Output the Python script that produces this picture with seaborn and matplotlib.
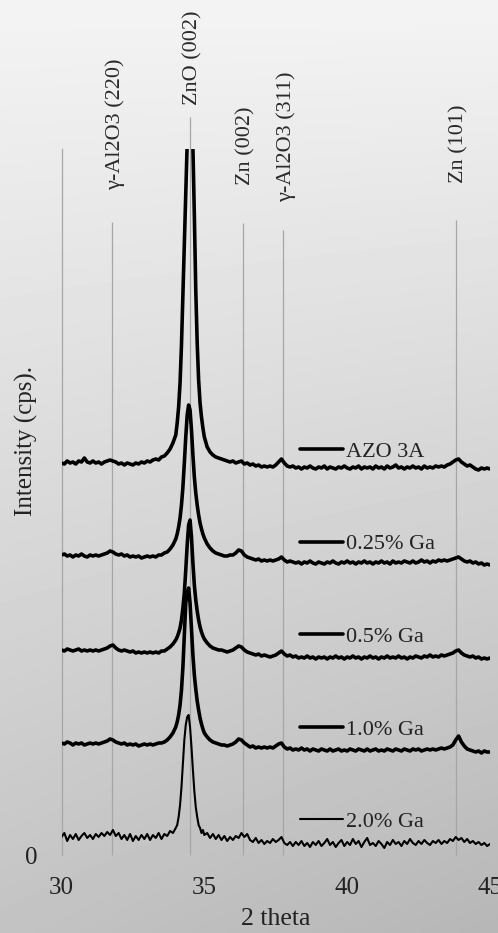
import numpy as np
import pandas as pd
import matplotlib
matplotlib.use("Agg")
import matplotlib.pyplot as plt
import seaborn as sns

# ---------------- data ----------------
TWO_THETA = [
    30.0, 30.1, 30.2, 30.3, 30.4, 30.5, 30.6, 30.7, 30.8, 30.9,
    31.0, 31.1, 31.2, 31.3, 31.4, 31.5, 31.6, 31.7, 31.8, 31.9,
    32.0, 32.1, 32.2, 32.3, 32.4, 32.5, 32.6, 32.7, 32.8, 32.9,
    33.0, 33.1, 33.2, 33.3, 33.4, 33.5, 33.6, 33.7, 33.8, 33.9,
    34.0, 34.05, 34.1, 34.15, 34.2, 34.25, 34.3, 34.35, 34.4, 34.45,
    34.5, 34.55, 34.6, 34.65, 34.7, 34.75, 34.8, 34.85, 34.9, 34.95, 35.0,
    35.1, 35.2, 35.3, 35.4, 35.5, 35.6, 35.7, 35.8, 35.9, 36.0,
    36.1, 36.2, 36.3, 36.4, 36.5, 36.6, 36.7, 36.8, 36.9, 37.0,
    37.1, 37.2, 37.3, 37.4, 37.5, 37.6, 37.7, 37.8, 37.9, 38.0,
    38.1, 38.2, 38.3, 38.4, 38.5, 38.6, 38.7, 38.8, 38.9, 39.0,
    39.1, 39.2, 39.3, 39.4, 39.5, 39.6, 39.7, 39.8, 39.9, 40.0,
    40.1, 40.2, 40.3, 40.4, 40.5, 40.6, 40.7, 40.8, 40.9, 41.0,
    41.1, 41.2, 41.3, 41.4, 41.5, 41.6, 41.7, 41.8, 41.9, 42.0,
    42.1, 42.2, 42.3, 42.4, 42.5, 42.6, 42.7, 42.8, 42.9, 43.0,
    43.1, 43.2, 43.3, 43.4, 43.5, 43.6, 43.7, 43.8, 43.9, 44.0,
    44.1, 44.2, 44.3, 44.4, 44.5, 44.6, 44.7, 44.8, 44.9, 45.0,
]

AZO_3A = [
    392, 391, 394, 392, 393, 391, 394, 393, 397, 393,
    392, 394, 392, 393, 391, 393, 394, 395, 394, 393,
    391, 392, 390, 392, 391, 390, 392, 391, 393, 392,
    394, 393, 395, 396, 395, 398, 399, 402, 406, 412,
    420, 432, 448, 472, 510, 560, 612, 662, 712, 800,
    860, 790, 708, 640, 565, 512, 475, 452, 438, 427, 418,
    408, 403, 400, 398, 397, 396, 395, 394, 393, 394,
    392, 393, 394, 391, 392, 390, 391, 389, 390, 388,
    389, 388, 389, 388, 390, 393, 396, 392, 389, 388,
    389, 387, 388, 386, 388, 387, 389, 387, 386, 388,
    387, 389, 386, 388, 387, 386, 388, 387, 389, 387,
    386, 388, 387, 389, 386, 388, 387, 388, 386, 389,
    387, 388, 386, 389, 387, 388, 390, 387, 388, 386,
    388, 387, 389, 387, 388, 386, 389, 387, 388, 387,
    389, 388, 389, 388, 390, 391, 393, 395, 396, 393,
    391, 389, 390, 388, 386, 385, 387, 386, 387, 386,
]

GA_025 = [
    300, 301, 299, 300, 298, 300, 299, 301, 299, 298,
    300, 299, 300, 299, 300, 301, 302, 304, 303, 301,
    300, 301, 299, 300, 298, 299, 298, 299, 297, 298,
    299, 298, 299, 298, 300, 300, 302, 303, 306, 310,
    316, 321, 328, 337, 350, 368, 392, 418, 440, 450,
    445, 425, 400, 378, 362, 350, 340, 332, 326, 321, 317,
    311, 307, 304, 302, 301, 300, 299, 299, 300, 300,
    302, 305, 304, 300, 298, 297, 296, 295, 296, 294,
    295, 294, 295, 294, 295, 296, 298, 295, 293, 294,
    293, 292, 293, 291, 293, 292, 294, 292, 291, 293,
    292, 291, 293, 292, 294, 292, 291, 293, 292, 294,
    292, 293, 291, 293, 292, 294, 292, 293, 291, 293,
    292, 294, 292, 293, 291, 294, 292, 293, 292, 294,
    293, 292, 294, 292, 293, 295, 293, 294, 292, 294,
    293, 295, 294, 295, 294, 295, 296, 297, 298, 296,
    294, 293, 294, 292, 293, 291, 292, 290, 291, 290,
]

GA_05 = [
    205, 204, 206, 205, 204, 205, 206, 204, 205, 204,
    205, 204, 205, 204, 205, 206, 207, 209, 210, 207,
    205, 204, 205, 204, 203, 204, 202, 203, 202, 203,
    202, 203, 202, 203, 202, 204, 204, 206, 208, 211,
    215, 218, 222, 227, 235, 247, 262, 285, 310, 330,
    335, 318, 292, 270, 255, 244, 235, 228, 223, 219, 216,
    212, 209, 207, 206, 205, 205, 204, 203, 204, 205,
    207, 209, 208, 205, 203, 202, 201, 200, 201, 199,
    200, 199, 198, 199, 200, 202, 204, 201, 199, 200,
    198, 199, 197, 198, 197, 199, 197, 198, 196, 198,
    197, 198, 196, 198, 197, 199, 197, 198, 196, 198,
    197, 199, 197, 198, 196, 198, 197, 199, 197, 198,
    196, 198, 197, 199, 197, 198, 197, 199, 197, 198,
    196, 198, 197, 199, 198, 197, 199, 198, 200, 198,
    199, 198, 200, 199, 200, 201, 202, 204, 205, 202,
    200, 199, 198, 199, 197, 198, 196, 197, 196, 197,
]

GA_10 = [
    112, 111, 113, 112, 110, 112, 111, 112, 110, 111,
    112, 111, 112, 111, 112, 113, 114, 116, 115, 113,
    112, 111, 112, 110, 111, 110, 111, 109, 110, 111,
    110, 111, 110, 111, 112, 112, 113, 115, 118, 122,
    128, 133, 140, 150, 165, 188, 220, 252, 262, 267,
    252, 225, 200, 180, 166, 154, 145, 137, 131, 126, 122,
    118, 115, 113, 112, 111, 110, 110, 109, 110, 111,
    113, 116, 115, 112, 110, 108, 109, 107, 108, 107,
    108, 107, 108, 107, 109, 111, 112, 108, 106, 107,
    105, 106, 105, 107, 105, 106, 104, 106, 105, 104,
    106, 105, 104, 106, 104, 105, 106, 104, 105, 104,
    106, 105, 104, 106, 105, 104, 106, 104, 105, 106,
    104, 105, 104, 106, 105, 104, 106, 105, 104, 106,
    105, 104, 106, 105, 106, 104, 105, 106, 105, 106,
    105, 106, 107, 106, 107, 108, 110, 115, 119, 113,
    109, 106, 105, 104, 103, 104, 102, 104, 103, 103,
]

GA_20 = [
    18, 22, 14, 20, 16, 21, 15, 19, 22, 17,
    20, 16, 21, 18, 22, 19, 23, 20, 25, 19,
    22, 16, 20, 15, 21, 14, 19, 15, 20, 16,
    21, 15, 20, 17, 22, 16, 21, 19, 24, 22,
    27, 30, 38, 50, 68, 92, 115, 130, 138, 140,
    128, 108, 85, 64, 48, 38, 30, 27, 22, 25, 20,
    22, 17, 21, 16, 20, 15, 19, 14, 18, 15,
    19, 17, 22, 18, 21, 15, 13, 17, 12, 15,
    11, 14, 12, 16, 13, 15, 18, 12, 10, 13,
    9, 13, 10, 14, 9, 12, 8, 13, 10, 14,
    9, 12, 16, 10, 13, 8, 12, 15, 9, 13,
    10, 16, 11, 14, 8, 13, 17, 10, 12, 9,
    14, 11, 7, 13, 10, 15, 11, 13, 9, 14,
    11, 16, 12, 10, 14, 11, 15, 12, 10, 14,
    12, 15, 11, 14, 12, 16, 14, 18, 15, 17,
    13, 16, 12, 14, 11, 13, 10, 12, 9, 11,
]

SAMPLE_NAMES = ["AZO 3A", "0.25% Ga", "0.5% Ga", "1.0% Ga", "2.0% Ga"]
SAMPLE_VALUES = [AZO_3A, GA_025, GA_05, GA_10, GA_20]

REF_POSITIONS = [31.77, 34.51, 36.36, 37.76, 43.82]
REF_LABELS = ["γ-Al2O3 (220)", "ZnO (002)", "Zn (002)", "γ-Al2O3 (311)", "Zn (101)"]
REF_LINE_TOPS = [633, 738, 632, 625, 635]

X_TICKS = [30, 35, 40, 45]
Y_TICKS = [0]

# ---------------- style / layout ----------------
LABEL_Y = [665, 750, 670, 653, 672]
LINE_WIDTHS = [2.6, 2.6, 2.6, 2.6, 1.5]

sns.set_style("white")
plt.rcParams["font.family"] = ["Liberation Serif", "DejaVu Serif"]

fig = plt.figure(figsize=(4.98, 9.33), dpi=100)

# gradient background
bg = fig.add_axes([0, 0, 1, 1], zorder=-10)
yy, xx = np.mgrid[0:1:200j, 0:1:100j]
shade = 0.955 - 0.19 * yy - 0.05 * xx * yy
bg.imshow(shade, cmap="gray", vmin=0, vmax=1, aspect="auto",
          extent=[0, 1, 0, 1], interpolation="bilinear")
bg.axis("off")

ax = fig.add_axes([61.5 / 498, 78 / 933, 428.5 / 498, 706 / 933])
ax.set_facecolor("none")

frames = []
for name, vals in zip(SAMPLE_NAMES, SAMPLE_VALUES):
    frames.append(pd.DataFrame({"two_theta": TWO_THETA, "intensity": vals, "sample": name}))
df = pd.concat(frames, ignore_index=True)

handles = []
for name, lw in zip(SAMPLE_NAMES, LINE_WIDTHS):
    sub = df[df["sample"] == name]
    sns.lineplot(data=sub, x="two_theta", y="intensity", ax=ax, color="black",
                 linewidth=lw, estimator=None, sort=False, label=name, zorder=3)
    handles.append(ax.get_lines()[-1])

# reference peak lines and labels
ax.vlines(REF_POSITIONS, 0, REF_LINE_TOPS, colors="#a6a6a6", linewidth=0.9,
          zorder=1, clip_on=False)
for xp, lab, ly in zip(REF_POSITIONS, REF_LABELS, LABEL_Y):
    ax.text(xp + 0.1, ly, lab, rotation=90, ha="center", va="bottom",
            fontsize=16, color="#2a2a2a")

ax.set_xlim(30, 45)
ax.set_ylim(0, 706)
ax.set_xticks(X_TICKS)
ax.set_yticks(Y_TICKS)
ax.tick_params(axis="x", length=0, pad=16, labelsize=18, labelcolor="#222222")
ax.tick_params(axis="y", length=6, width=1.0, color="#f4f4f4", pad=11,
               labelsize=18, labelcolor="#222222")

for side in ["top", "right", "bottom"]:
    ax.spines[side].set_visible(False)
ax.spines["left"].set_color("#a6a6a6")
ax.spines["left"].set_linewidth(0.9)

ax.set_xlabel("2 theta", fontsize=18.5, color="#222222", labelpad=6)
ax.set_ylabel("Intensity (cps).", fontsize=18, color="#222222")
ax.yaxis.set_label_coords(-0.056, 0.587)

leg = ax.legend(handles=handles, labels=SAMPLE_NAMES, loc="upper left",
                bbox_to_anchor=(0.5566, 0.586), frameon=False, fontsize=16,
                handlelength=1.95, handletextpad=0.1, labelspacing=3.24,
                borderpad=0, borderaxespad=0)
for t in leg.get_texts():
    t.set_color("#222222")

fig.savefig("out.png", dpi=100)
